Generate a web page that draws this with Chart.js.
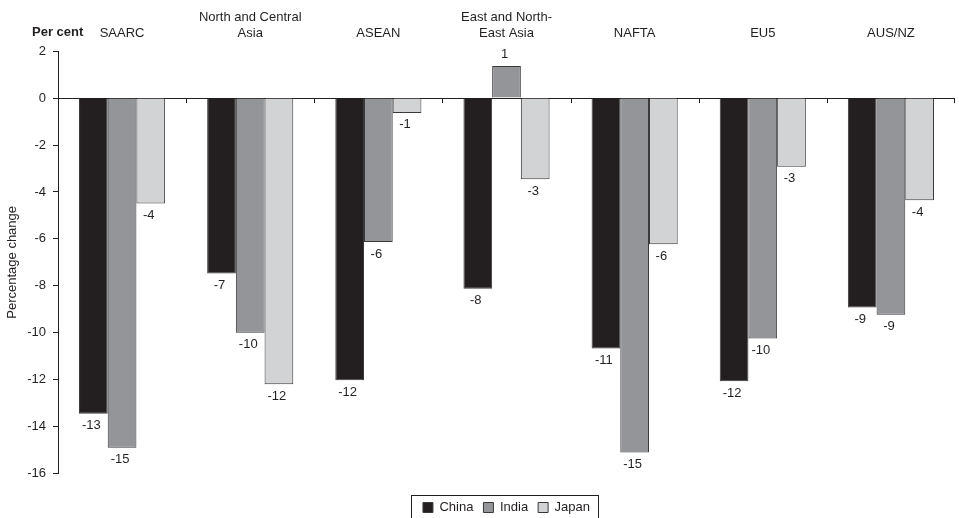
<!DOCTYPE html>
<html>
<head>
<meta charset="utf-8">
<script src="https://cdn.jsdelivr.net/npm/chart.js@4.4.0/dist/chart.umd.min.js"></script>
<style>
  html, body { margin: 0; padding: 0; background: #ffffff; }
  #wrap { width: 959px; height: 518px; }
</style>
</head>
<body>
<div id="wrap"><canvas id="chart" width="959" height="518"></canvas></div>
<script>
// Regions (multi-line labels given as arrays)
const regions = ['SAARC', ['North and Central', 'Asia'], 'ASEAN', ['East and North-', 'East Asia'], 'NAFTA', 'EU5', 'AUS/NZ'];

// Percentage change by source country
const china = [-13.45, -7.48, -12.03, -8.12, -10.67, -12.07, -8.92];
const india = [-14.9, -10.0, -6.13, 1.37, -15.1, -10.25, -9.23];
const japan = [-4.49, -12.2, -0.63, -3.46, -6.23, -2.93, -4.35];

// Value axis range
const yMin = -16;
const yMax = 2;
const yStep = 2;

const FONT = 'Liberation Sans, Arial, sans-serif';
const INK = '#231f20';

// Draws the value labels, the category marks on the zero line,
// the frame round the legend and the unit note.
const annotations = {
  id: 'annotations',
  afterDatasetsDraw(chart) {
    const { ctx, chartArea, scales } = chart;
    const x = scales.x, y = scales.y;
    const y0 = y.getPixelForValue(0);
    ctx.save();

    ctx.strokeStyle = INK;
    ctx.lineWidth = 1;
    ctx.beginPath();
    for (let i = 0; i < regions.length; i++) {
      const bx = i < regions.length - 1
        ? (x.getPixelForValue(i) + x.getPixelForValue(i + 1)) / 2
        : chartArea.right - 1;
      const px = Math.round(bx) + 0.5;
      ctx.moveTo(px, y0);
      ctx.lineTo(px, y0 + 5);
    }
    ctx.stroke();

    ctx.fillStyle = INK;
    ctx.font = '13px ' + FONT;
    ctx.textAlign = 'center';
    ctx.textBaseline = 'middle';
    chart.data.datasets.forEach((ds, di) => {
      const meta = chart.getDatasetMeta(di);
      meta.data.forEach((bar, i) => {
        const v = ds.data[i];
        const label = String(Math.round(v));
        const ty = v < 0 ? bar.y + 12 : bar.y - 12;
        ctx.fillText(label, bar.x - 2, ty);
      });
    });
    ctx.restore();
  },
  afterDraw(chart) {
    const { ctx } = chart;
    ctx.save();
    const boxes = chart.legend.legendHitBoxes;
    if (boxes && boxes.length) {
      const left = Math.min(...boxes.map(b => b.left)) - 12;
      const right = Math.max(...boxes.map(b => b.left + b.width)) + 8;
      const top = Math.min(...boxes.map(b => b.top)) - 6;
      ctx.strokeStyle = INK;
      ctx.lineWidth = 1;
      ctx.strokeRect(Math.round(left) + 0.5, Math.round(top) + 0.5, Math.round(right - left), 60);
    }
    ctx.fillStyle = INK;
    ctx.font = 'bold 13px ' + FONT;
    ctx.textAlign = 'left';
    ctx.textBaseline = 'middle';
    ctx.fillText('Per cent', 32, 32);
    ctx.restore();
  }
};

const barStyle = { borderColor: '#3a3a3a', borderWidth: 1, barPercentage: 1.0, categoryPercentage: 0.672 };

new Chart(document.getElementById('chart'), {
  type: 'bar',
  data: {
    labels: regions,
    datasets: [
      Object.assign({ label: 'China', data: china, backgroundColor: '#231f20' }, barStyle),
      Object.assign({ label: 'India', data: india, backgroundColor: '#939598' }, barStyle),
      Object.assign({ label: 'Japan', data: japan, backgroundColor: '#d1d3d4' }, barStyle)
    ]
  },
  options: {
    responsive: false,
    animation: false,
    devicePixelRatio: 1,
    layout: { padding: { top: 8, right: 4, bottom: -6, left: 0 } },
    plugins: {
      tooltip: { enabled: false },
      legend: {
        position: 'bottom',
        fullSize: false,
        title: { display: true, text: '', padding: 0, font: { size: 14, lineHeight: 1.25 } },
        labels: {
          boxWidth: 10,
          boxHeight: 10,
          padding: 10,
          color: INK,
          font: { family: FONT, size: 13 }
        }
      }
    },
    scales: {
      x: {
        position: 'top',
        grid: { display: false },
        border: { display: false },
        ticks: {
          color: INK,
          padding: 2,
          maxRotation: 0,
          autoSkip: false,
          font: { family: FONT, size: 13, lineHeight: 1.2 }
        }
      },
      y: {
        min: yMin,
        max: yMax,
        afterFit(scale) { scale.width = 58; },
        ticks: {
          stepSize: yStep,
          color: INK,
          padding: 7,
          font: { family: FONT, size: 13 }
        },
        grid: {
          color: ctx => (ctx.tick && ctx.tick.value === 0 ? INK : 'rgba(0,0,0,0)'),
          tickColor: INK,
          tickLength: 5,
          lineWidth: 1
        },
        border: { display: true, color: INK, width: 1 },
        title: {
          display: true,
          text: 'Percentage change',
          color: INK,
          padding: { top: 5, bottom: 0 },
          font: { family: FONT, size: 13 }
        }
      }
    }
  },
  plugins: [annotations]
});
</script>
</body>
</html>
